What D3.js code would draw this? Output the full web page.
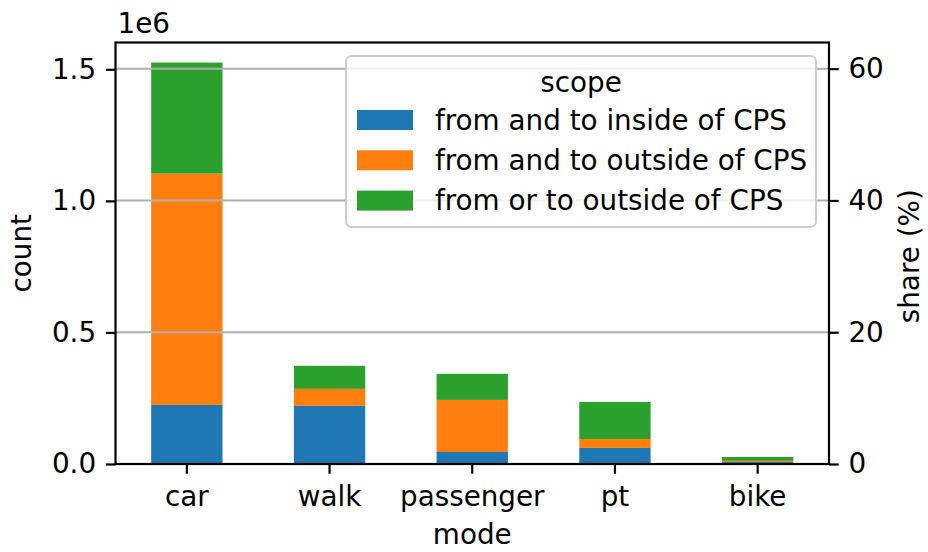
<!DOCTYPE html>
<html>
<head>
<meta charset="utf-8">
<script src="https://cdn.jsdelivr.net/npm/d3@7"></script>
<style>
  body { margin: 0; background: #fff; }
  svg text { font-family: "DejaVu Sans", sans-serif; fill: #000; }
</style>
</head>
<body>
<svg id="chart" width="928" height="552"></svg>
<script>
"use strict";
// modes on the x axis
const modes = ["car", "walk", "passenger", "pt", "bike"];
const scopes = ["from and to inside of CPS", "from and to outside of CPS", "from or to outside of CPS"];
// counts per scope, in the order of modes
const insideCounts = [224600, 221000, 45700, 61000, 8000];
const outsideCounts = [879000, 64700, 198000, 34000, 4000];
const mixedCounts = [422000, 87500, 99000, 141000, 14600];
const leftTicks = [0, 0.5e6, 1.0e6, 1.5e6];
const rightTicks = [0, 20, 40, 60];
const colors = ["#1f77b4", "#ff7f0e", "#2ca02c"];

const W = 928, H = 552;
const margin = {top: 42.5, right: 99, bottom: 88, left: 115.5};
const fs = 27.8;

const svg = d3.select("#chart");
const width = W - margin.left - margin.right;
const height = H - margin.top - margin.bottom;
const g = svg.append("g").attr("transform", `translate(${margin.left},${margin.top})`);

// Build stacked table from the series arrays
const table = modes.map((m, i) => ({
  mode: m,
  [scopes[0]]: insideCounts[i],
  [scopes[1]]: outsideCounts[i],
  [scopes[2]]: mixedCounts[i]
}));
const stacked = d3.stack().keys(scopes)(table);
const totals = table.map(d => scopes.reduce((s, k) => s + d[k], 0));
const grand = d3.sum(totals);
const maxTotal = d3.max(totals);

const x = d3.scaleBand().domain(modes).range([0, width]).paddingInner(0.5).paddingOuter(0.25);
const yTop = maxTotal * 1.05;
const y = d3.scaleLinear().domain([0, yTop]).range([height, 0]);
const y2 = d3.scaleLinear().domain([0, yTop / grand * 100]).range([height, 0]);

// Bars
g.selectAll(".layer")
  .data(stacked)
  .enter()
  .append("g")
  .attr("fill", (d, i) => colors[i])
  .selectAll("rect")
  .data(d => d)
  .enter()
  .append("rect")
  .attr("x", d => x(d.data.mode))
  .attr("width", x.bandwidth())
  .attr("y", d => y(d[1]))
  .attr("height", d => y(d[0]) - y(d[1]));

// Grid from the right (share) axis, drawn over bars
g.append("g")
  .selectAll("line")
  .data(rightTicks)
  .enter()
  .append("line")
  .attr("x1", 0).attr("x2", width)
  .attr("y1", d => y2(d)).attr("y2", d => y2(d))
  .attr("stroke", "#b0b0b0")
  .attr("stroke-width", 2);

function styleAxis(sel) {
  sel.select(".domain").remove();
  sel.selectAll(".tick line").attr("stroke", "#000").attr("stroke-width", 2.2);
  sel.selectAll(".tick text").attr("font-size", fs).attr("font-family", "DejaVu Sans");
}

// Left axis
g.append("g")
  .call(d3.axisLeft(y).tickValues(leftTicks).tickFormat(d => (d / 1e6).toFixed(1)).tickSizeOuter(0).tickSize(9.7).tickPadding(9.7))
  .call(styleAxis);

// Right axis
g.append("g")
  .attr("transform", `translate(${width},0)`)
  .call(d3.axisRight(y2).tickValues(rightTicks).tickFormat(d3.format("d")).tickSizeOuter(0).tickSize(9.7).tickPadding(9.7))
  .call(styleAxis);

// Bottom axis
g.append("g")
  .attr("transform", `translate(0,${height})`)
  .call(d3.axisBottom(x).tickSizeOuter(0).tickSize(9.7).tickPadding(12.5))
  .call(styleAxis);

// Spines
g.append("rect")
  .attr("width", width).attr("height", height)
  .attr("fill", "none").attr("stroke", "#000").attr("stroke-width", 2.2);

// Axis labels
svg.append("text")
  .attr("x", margin.left + 2).attr("y", 33)
  .attr("font-size", fs).text("1e6");
svg.append("text")
  .attr("transform", `translate(31,${margin.top + height / 2}) rotate(-90)`)
  .attr("text-anchor", "middle").attr("font-size", fs).text("count");
svg.append("text")
  .attr("transform", `translate(918.5,${margin.top + height / 2 + 3}) rotate(-90)`)
  .attr("text-anchor", "middle").attr("font-size", fs).text("share (%)");
svg.append("text")
  .attr("x", margin.left + width / 2).attr("y", 544)
  .attr("text-anchor", "middle").attr("font-size", fs).text("mode");

// Legend
const lg = svg.append("g").attr("transform", "translate(346,56)");
lg.append("rect")
  .attr("width", 470).attr("height", 171)
  .attr("rx", 5.5)
  .attr("fill", "#fff").attr("fill-opacity", 0.8)
  .attr("stroke", "#cccccc").attr("stroke-width", 2);
lg.append("text")
  .attr("x", 235).attr("y", 26)
  .attr("text-anchor", "middle").attr("dominant-baseline", "central")
  .attr("font-size", fs).text("scope");
const items = lg.selectAll(".item")
  .data(scopes)
  .enter()
  .append("g")
  .attr("transform", (d, i) => `translate(0,${64 + i * 40.3})`);
items.append("rect")
  .attr("x", 11).attr("y", -10)
  .attr("width", 56).attr("height", 20)
  .attr("fill", (d, i) => colors[i]);
items.append("text")
  .attr("x", 89).attr("y", 0)
  .attr("dominant-baseline", "central")
  .attr("font-size", fs).text(d => d);
</script>
</body>
</html>
